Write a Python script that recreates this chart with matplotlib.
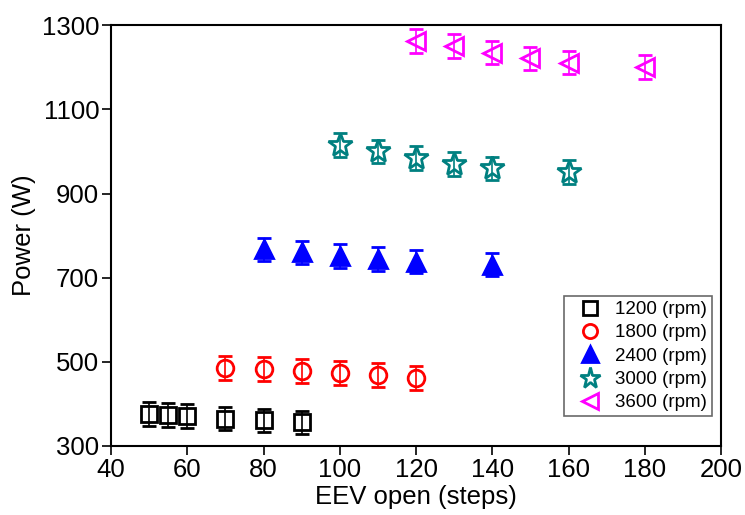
import matplotlib.pyplot as plt
from matplotlib.lines import Line2D

plt.rcParams['font.family'] = ['Liberation Sans', 'DejaVu Sans']

# EEV opening (steps) and power (W) for each compressor speed
x_1200 = [50, 55, 60, 70, 80, 90]
p_1200 = [376, 374, 371, 365, 361, 356]
x_1800 = [70, 80, 90, 100, 110, 120]
p_1800 = [485, 483, 478, 474, 469, 462]
x_2400 = [80, 90, 100, 110, 120, 140]
p_2400 = [767, 760, 752, 745, 738, 731]
x_3000 = [100, 110, 120, 130, 140, 160]
p_3000 = [1015, 1000, 985, 970, 960, 951]
x_3600 = [120, 130, 140, 150, 160, 180]
p_3600 = [1262, 1250, 1235, 1221, 1211, 1201]
err = 28

series = [
    (x_1200, p_1200, 's', 'black', 'none', 11.5, '1200 (rpm)'),
    (x_1800, p_1800, 'o', 'red', 'none', 12, '1800 (rpm)'),
    (x_2400, p_2400, '^', 'blue', 'blue', 13, '2400 (rpm)'),
    (x_3000, p_3000, '*', '#008080', 'none', 18, '3000 (rpm)'),
    (x_3600, p_3600, '<', 'magenta', 'none', 13, '3600 (rpm)'),
]

fig = plt.figure(figsize=(7.45, 5.15), dpi=100)
ax = fig.add_axes([0.149, 0.134, 0.819, 0.817])

handles = []
for xs, ys, m, c, fc, ms, lab in series:
    ax.errorbar(xs, ys, yerr=err, marker=m, color=c, mfc=fc, linestyle='none',
                capsize=5.2, elinewidth=1.2, capthick=1.2, markersize=ms,
                markeredgewidth=2)
    handles.append(Line2D([], [], marker=m, color=c, mfc=fc, linestyle='none',
                          markersize=ms * 0.85, markeredgewidth=2, label=lab))

ax.set_xlim(40, 200)
ax.set_ylim(300, 1300)
ax.set_xticks(range(40, 201, 20))
ax.set_yticks(range(300, 1301, 200))
ax.tick_params(direction='out', length=6.5, width=1.2, labelsize=18.5,
               top=False, right=False, pad=2)
for s in ax.spines.values():
    s.set_linewidth(1.5)

ax.set_xlabel('EEV open (steps)', fontsize=18.5, labelpad=2)
ax.set_ylabel('Power (W)', fontsize=18.5, labelpad=4)

leg = ax.legend(handles=handles, loc='lower right', fontsize=13.5, frameon=True,
                fancybox=False, edgecolor='#444444', handletextpad=0.27,
                borderpad=0.25, labelspacing=0.33, handlelength=2.2,
                borderaxespad=0, bbox_to_anchor=(0.985, 0.071))
leg.get_frame().set_linewidth(1.2)

fig.savefig('out.png', dpi=100)
